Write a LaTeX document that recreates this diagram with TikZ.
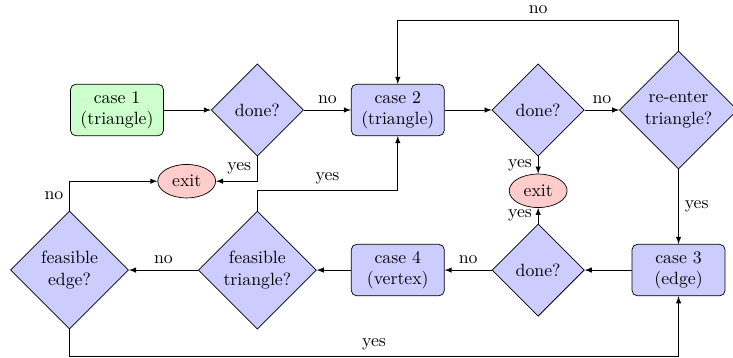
\documentclass[tikz,border=0pt]{standalone}
\usepackage{amsmath}
\usepackage{tikz}
\usetikzlibrary{shapes.geometric, positioning, arrows}

\begin{document}
\begin{tikzpicture}[>=latex, node distance=2.78cm, on grid, auto,
    block/.style={rectangle, draw, rounded corners=3pt, fill=blue!20, align=center,
        minimum width=52.4pt, minimum height=29pt, inner sep=1pt},
    decide/.style={diamond, draw, fill=blue!20, align=center, aspect=1,
        inner sep=0pt, minimum size=52pt},
    bigdecide/.style={decide, minimum size=66.5pt},
    stop/.style={ellipse, draw, fill=red!20}]
    \useasboundingbox (-2.317,-4.911) rectangle (12.198,2.178);

    \node[block, fill=green!20] (c1) {case 1\\(triangle)};
    \node[decide] (d1) [right=of c1] {done?};
    \node[block] (c2) [right=of d1] {case 2\\(triangle)};
    \node[decide] (d2) [right=of c2] {done?};
    \node[bigdecide] (re) [right=of d2] {re-enter\\triangle?};
    \node[block] (c3) [below=3.17cm of re] {case 3\\(edge)};
    \node[decide] (d3) [left=of c3] {done?};
    \node[block] (c4) [left=of d3] {case 4\\(vertex)};
    \node[bigdecide] (ft) [left=of c4] {feasible\\triangle?};
    \node[bigdecide] (fe) [left=3.72cm of ft] {feasible\\edge?};
    \node[stop] (x1) [below left=1.41cm and 1.4cm of d1] {exit};
    \node[stop] (x2) [below=1.6cm of d2] {exit};

    \path[->]
    (c1) edge (d1)
    (d1) edge node {no} (c2)
    (c2) edge (d2)
    (d2) edge node {no} (re)
         edge node [swap] {yes} (x2)
    (re) edge node {yes} (c3)
    (c3) edge (d3)
    (d3) edge node {yes} (x2)
         edge node [swap] {no} (c4)
    (c4) edge (ft)
    (ft) edge node [swap] {no} (fe);

    \draw[->] (d1.south) |- node[pos=0.25, left] {yes} (x1.east);
    \draw[->] (re.north) -- ++(0,0.6) -| node[pos=0.25, above] {no} (c2.north);
    \draw[->] (ft.north) -- ++(0,0.4) -| node[pos=0.25, above] {yes} (c2.south);
    \draw[->] (fe.north) |- node[pos=0.25, left] {no} (x1.west);
    \draw[->] (fe.south) -- ++(0,-0.53) -| node[pos=0.25, above] {yes} (c3.south);
\end{tikzpicture}
\end{document}
